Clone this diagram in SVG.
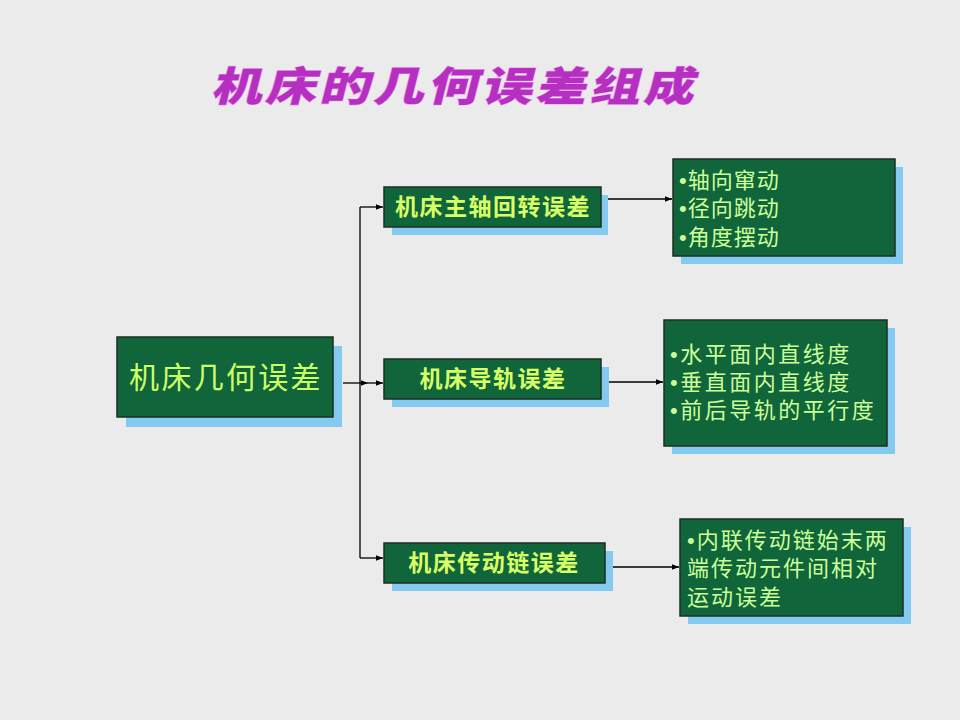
<svg xmlns="http://www.w3.org/2000/svg" width="960" height="720" viewBox="0 0 960 720">
<style>
.bg{fill:#ebebeb}
.box{fill:#11653a;stroke:#1c2e24;stroke-width:1.5}
.sh{fill:#84c9ef}
.t{font-family:"Liberation Sans","Noto Sans CJK SC",sans-serif}
.lt{fill:#d8ff66;font-weight:bold;font-size:23px;letter-spacing:1.5px}
.rt{fill:#ccff99;font-size:22px;letter-spacing:1px}
.mt{fill:#ccff66;font-size:30px;letter-spacing:2.3px}
.ln{stroke:#000;stroke-width:1.3;fill:none}
.title{font-family:"Noto Sans CJK SC",sans-serif;font-weight:900;font-size:44px;fill:#b530c0;stroke:#f09af0;stroke-width:1.2;paint-order:stroke;letter-spacing:3px}
</style>
<defs>
<marker id="ah" viewBox="0 0 10 10" refX="10" refY="5" markerWidth="7" markerHeight="7" markerUnits="userSpaceOnUse" orient="auto">
<path d="M0,1 L10,5 L0,9 z" fill="#000"/>
</marker>
</defs>
<rect class="bg" x="0" y="0" width="960" height="720"/>
<g id="title">
<text class="title" x="0" y="0" text-anchor="middle" transform="translate(454,101) skewX(-14) scale(1.15,0.92)">机床的几何误差组成</text>
</g>
<g id="connectors">
<path class="ln" d="M343,383 L368,383" marker-end="url(#ah)"/>
<path class="ln" d="M368,383 L383,383" marker-end="url(#ah)"/>
<path class="ln" d="M360,207 L360,558"/>
<path class="ln" d="M360,207 L383,207" marker-end="url(#ah)"/>
<path class="ln" d="M360,558 L383,558" marker-end="url(#ah)"/>
<path class="ln" d="M601,199 L672,199" marker-end="url(#ah)"/>
<path class="ln" d="M601,382 L663,382" marker-end="url(#ah)"/>
<path class="ln" d="M605,567 L679,567" marker-end="url(#ah)"/>
</g>
<g id="main">
<rect class="sh" x="126" y="346" width="216" height="81"/>
<rect class="box" x="117" y="337" width="216" height="80"/>
<text class="t mt" x="226" y="388" text-anchor="middle">机床几何误差</text>
</g>
<g id="spindle">
<rect class="sh" x="392" y="195" width="216" height="40"/>
<rect class="box" x="384" y="187" width="217" height="40"/>
<text class="t lt" x="493" y="215" text-anchor="middle">机床主轴回转误差</text>
</g>
<g id="guide">
<rect class="sh" x="392" y="367" width="217" height="40"/>
<rect class="box" x="384" y="359" width="217" height="40"/>
<text class="t lt" x="493" y="387" text-anchor="middle">机床导轨误差</text>
</g>
<g id="chain">
<rect class="sh" x="392" y="551" width="221" height="40"/>
<rect class="box" x="384" y="543" width="221" height="40"/>
<text class="t lt" x="494" y="571" text-anchor="middle">机床传动链误差</text>
</g>
<g id="spindle-items">
<rect class="sh" x="681" y="167" width="222" height="97"/>
<rect class="box" x="673" y="159" width="222" height="97"/>
<text class="t rt" x="679" y="188">•轴向窜动</text>
<text class="t rt" x="679" y="216">•径向跳动</text>
<text class="t rt" x="679" y="245">•角度摆动</text>
</g>
<g id="guide-items">
<rect class="sh" x="672" y="328" width="223" height="126"/>
<rect class="box" x="664" y="320" width="223" height="126"/>
<text class="t rt" x="670" y="362" style="letter-spacing:2.5px">•水平面内直线度</text>
<text class="t rt" x="670" y="390" style="letter-spacing:2.5px">•垂直面内直线度</text>
<text class="t rt" x="670" y="418" style="letter-spacing:2.5px">•前后导轨的平行度</text>
</g>
<g id="chain-items">
<rect class="sh" x="688" y="527" width="223" height="97"/>
<rect class="box" x="680" y="519" width="223" height="97"/>
<text class="t rt" x="687" y="548" style="letter-spacing:2px">•内联传动链始末两</text>
<text class="t rt" x="687" y="576" style="letter-spacing:2px">端传动元件间相对</text>
<text class="t rt" x="687" y="605" style="letter-spacing:2px">运动误差</text>
</g>
</svg>
